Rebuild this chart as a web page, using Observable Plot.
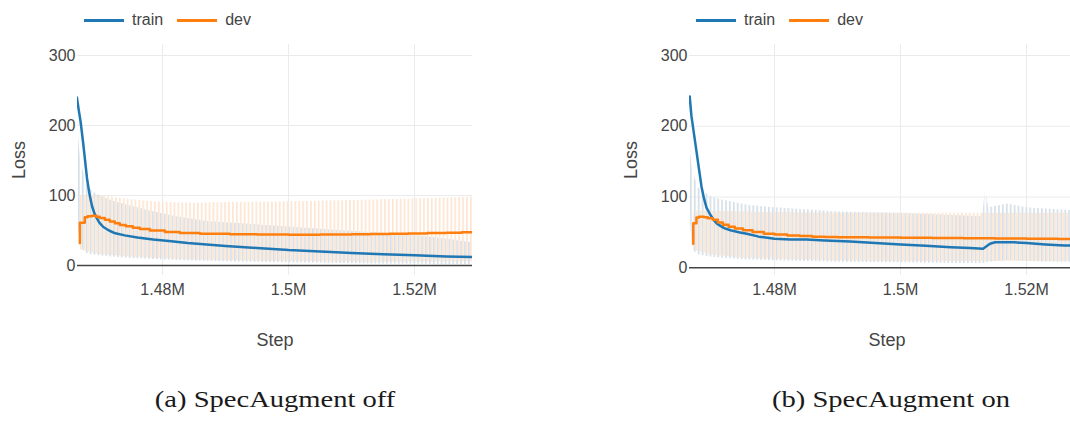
<!DOCTYPE html>
<html>
<head>
<meta charset="utf-8">
<script src="https://cdn.jsdelivr.net/npm/d3@7"></script>
<script src="https://cdn.jsdelivr.net/npm/@observablehq/plot@0.6"></script>
<style>
  html, body { margin: 0; padding: 0; background: #fff; }
  body { width: 1070px; height: 423px; overflow: hidden; position: relative;
         font-family: "Liberation Sans", Arial, sans-serif; color: #444; }
  .panel { position: absolute; top: 40px; width: 492px; height: 325px; }
  .panel svg { max-width: none !important; width: 492px; height: 325px; }
  .legend { position: absolute; top: 11px; display: flex; align-items: center;
            font-size: 16px; line-height: 18px; color: #444; white-space: nowrap; }
  .legend .sw { display: inline-block; width: 40px; height: 3px; margin-right: 8px; }
  .legend .item { display: flex; align-items: center; margin-right: 14px; }
  .caption { position: absolute; top: 387px; width: 400px; text-align: center;
             font-family: "Liberation Serif", "DejaVu Serif", serif; font-size: 24px;
             line-height: 24px; color: #1a1a1a; }
  .caption span { display: inline-block; transform: scaleX(1.19); }
</style>
</head>
<body>
<!-- stripe fills for the raw (unsmoothed) loss traces -->
<svg width="0" height="0" style="position:absolute">
  <defs>
    <pattern id="trainRaw" patternUnits="userSpaceOnUse" width="3.9" height="20">
      <rect x="0" y="0" width="1.7" height="20" fill="#d6dfe7"></rect>
    </pattern>
    <pattern id="devRaw" patternUnits="userSpaceOnUse" width="3.9" height="20">
      <rect x="2" y="0" width="1.6" height="20" fill="#fde4cf"></rect>
    </pattern>
  </defs>
</svg>

<div class="legend" style="left:84px"><span class="item"><span class="sw" style="background:#1f77b4"></span>train</span><span class="item"><span class="sw" style="background:#ff7f0e"></span>dev</span></div>
<div class="legend" style="left:696px"><span class="item"><span class="sw" style="background:#1f77b4"></span>train</span><span class="item"><span class="sw" style="background:#ff7f0e"></span>dev</span></div>

<div id="panelA" class="panel" style="left:0px"></div>
<div id="panelB" class="panel" style="left:612px"></div>

<div class="caption" style="left:75px"><span>(a) SpecAugment off</span></div>
<div class="caption" style="left:691px"><span>(b) SpecAugment on</span></div>

<script>
// Shared axes
const xTicks = [1480000, 1500000, 1520000];
const yTicks = [0, 100, 200, 300];
const stepDomain = [1466500, 1529200];

// (a) SpecAugment off — smoothed train loss
const offTrainStep = [1466400, 1466700, 1467000, 1467400, 1467700, 1468000, 1468400, 1468800, 1469200, 1469600,
  1470000, 1470600, 1471500, 1472500, 1474000, 1476000, 1478500, 1481000, 1484000, 1487000,
  1490000, 1495000, 1500000, 1505000, 1510000, 1515000, 1520000, 1525000, 1529200];
const offTrainLoss = [240, 222, 205, 175, 150, 125, 102, 85, 74, 67,
  61, 55, 50, 46, 43, 40, 37, 35, 32, 30,
  28, 25, 22, 20, 18, 16, 14.5, 13, 12];

// (a) smoothed dev loss (evaluated at intervals, drawn as steps)
const offDevStep = [1466850, 1466880, 1467650, 1468100, 1468800, 1469500, 1470030, 1470830, 1471620, 1472420,
  1473210, 1474170, 1475280, 1476400, 1477980, 1480370, 1482750, 1485930, 1490700, 1495000,
  1500000, 1505000, 1510000, 1513000, 1516000, 1519000, 1522000, 1525000, 1527500, 1529200];
const offDevLoss = [32, 61, 69, 70.5, 71, 69.5, 68, 65.5, 63, 60.5,
  58, 56, 54, 52, 50, 48, 46.5, 45.5, 44.5, 44.2,
  44, 44.2, 44.5, 44.9, 45.3, 45.8, 46.3, 46.9, 47.5, 48];

// (a) raw train loss spread (upper / lower extent of the unsmoothed trace)
const offTrainRawStep = [1466420, 1466600, 1467000, 1468000, 1469000, 1470000, 1472000, 1475000, 1478000, 1482000,
  1487000, 1492000, 1500000, 1508000, 1515000, 1520000, 1525000, 1529200];
const offTrainRawHigh = [330, 190, 150, 115, 105, 100, 92, 85, 78, 70, 63, 60, 55, 50, 46, 43, 38, 32];
const offTrainRawLow = [150, 60, 25, 17, 15, 14, 12, 10, 9, 7, 6, 5, 4, 3, 2, 2, 1, 1];

// (a) raw dev loss spread
const offDevRawStep = [1466850, 1467000, 1470000, 1475000, 1480000, 1485000, 1490000, 1500000, 1510000, 1520000, 1529200];
const offDevRawHigh = [60, 100, 100, 94, 90, 89, 90, 91, 93, 95, 98];
const offDevRawLow = [32, 22, 16, 12, 10, 8, 7, 6, 5, 5, 5];

// (b) SpecAugment on — smoothed train loss
const onTrainStep = [1466530, 1466800, 1467200, 1467600, 1468000, 1468400, 1468800, 1469200, 1469800, 1470400,
  1470900, 1472000, 1473000, 1474500, 1475600, 1477500, 1480000, 1482500, 1485000, 1488000,
  1492000, 1496000, 1500000, 1504000, 1508000, 1511000, 1513100, 1514200, 1515000, 1516000,
  1518000, 1520000, 1523000, 1526000, 1529200];
const onTrainLoss = [242, 215, 190, 165, 140, 115, 98, 85, 75, 67,
  62, 56, 53, 50, 48, 44, 41, 40, 40, 38.5,
  37, 35, 33, 31, 29, 28, 27, 34, 36, 36,
  36, 35, 33, 31.5, 31];

// (b) smoothed dev loss
const onDevStep = [1467070, 1467100, 1467600, 1468000, 1468800, 1469400, 1470200, 1471000, 1471800, 1472700,
  1473700, 1475000, 1476500, 1478300, 1480000, 1482000, 1484000, 1486000, 1488000, 1490000,
  1495000, 1500000, 1505000, 1510000, 1515000, 1520000, 1525000, 1529200];
const onDevLoss = [34, 63, 71, 72, 71.5, 70, 68, 64, 61, 58,
  55.5, 53, 50.5, 48, 47, 45.8, 44.8, 44, 43.5, 43,
  42.7, 42.5, 42, 41.6, 41.3, 41, 40.7, 40.5];

// (b) raw train loss spread
const onTrainRawStep = [1466530, 1466700, 1467000, 1468000, 1470000, 1472000, 1476000, 1480000, 1485000, 1490000,
  1500000, 1508000, 1513000, 1513500, 1514000, 1517000, 1520000, 1525000, 1529200];
const onTrainRawHigh = [330, 160, 135, 112, 100, 95, 88, 85, 82, 79, 77, 74, 72, 110, 85, 90, 85, 82, 80];
const onTrainRawLow = [160, 60, 25, 18, 15, 13, 11, 10, 9, 8, 7, 6, 6, 6, 8, 10, 9, 8, 8];

// (b) raw dev loss spread
const onDevRawStep = [1467070, 1467200, 1470000, 1475000, 1480000, 1490000, 1500000, 1510000, 1520000, 1529200];
const onDevRawHigh = [63, 80, 80, 79, 78, 77, 77, 77, 77, 77];
const onDevRawLow = [34, 25, 18, 14, 12, 10, 9, 9, 9, 9];

const lineRows = (steps, losses) => steps.map((step, i) => ({step, loss: losses[i]}));
const bandRows = (steps, hi, lo) => steps.map((step, i) => ({step, hi: hi[i], lo: lo[i]}));

function lossPanel({train, dev, trainRaw, devRaw, yDomain}) {
  return Plot.plot({
    width: 492,
    height: 325,
    marginLeft: 77,
    marginRight: 20,
    marginTop: 4,
    marginBottom: 90,
    x: {domain: stepDomain},
    y: {domain: yDomain},
    style: {fontFamily: "'Liberation Sans', Arial, sans-serif", fontSize: "16px", color: "#444",
            background: "transparent", overflow: "visible"},
    marks: [
      Plot.gridX(xTicks, {stroke: "#ebebeb", strokeOpacity: 1, strokeWidth: 1}),
      Plot.gridY(yTicks.filter(d => d > 0), {stroke: "#ebebeb", strokeOpacity: 1, strokeWidth: 1}),
      Plot.areaY(trainRaw, {x: "step", y1: "lo", y2: "hi", fill: "url(#trainRaw)", clip: true}),
      Plot.areaY(devRaw, {x: "step", y1: "lo", y2: "hi", fill: "url(#devRaw)", clip: true}),
      Plot.ruleY([0], {stroke: "#444", strokeWidth: 1.5}),
      Plot.line(train, {x: "step", y: "loss", stroke: "#1f77b4", strokeWidth: 2.5, clip: true}),
      Plot.line(dev, {x: "step", y: "loss", stroke: "#ff7f0e", strokeWidth: 2.5, curve: "step-after", clip: true}),
      Plot.axisX({ticks: xTicks, tickFormat: d3.format("~s"), tickSize: 0, tickPadding: 8, label: null, fontSize: 16}),
      Plot.axisY({ticks: yTicks, tickSize: 0, tickPadding: 2, label: null, fontSize: 16}),
      Plot.text(["Loss"], {text: d => d, frameAnchor: "left", textAnchor: "middle", lineAnchor: "middle",
                           dx: -58, rotate: -90, fontSize: 18}),
      Plot.text(["Step"], {text: d => d, frameAnchor: "bottom", textAnchor: "middle", lineAnchor: "middle",
                           dy: 65, fontSize: 18})
    ]
  });
}

document.getElementById("panelA").append(lossPanel({
  train: lineRows(offTrainStep, offTrainLoss),
  dev: lineRows(offDevStep, offDevLoss),
  trainRaw: bandRows(offTrainRawStep, offTrainRawHigh, offTrainRawLow),
  devRaw: bandRows(offDevRawStep, offDevRawHigh, offDevRawLow),
  yDomain: [-14.3, 315.7]
}));

document.getElementById("panelB").append(lossPanel({
  train: lineRows(onTrainStep, onTrainLoss),
  dev: lineRows(onDevStep, onDevLoss),
  trainRaw: bandRows(onTrainRawStep, onTrainRawHigh, onTrainRawLow),
  devRaw: bandRows(onDevRawStep, onDevRawHigh, onDevRawLow),
  yDomain: [-10.9, 315.6]
}));
</script>
</body>
</html>
